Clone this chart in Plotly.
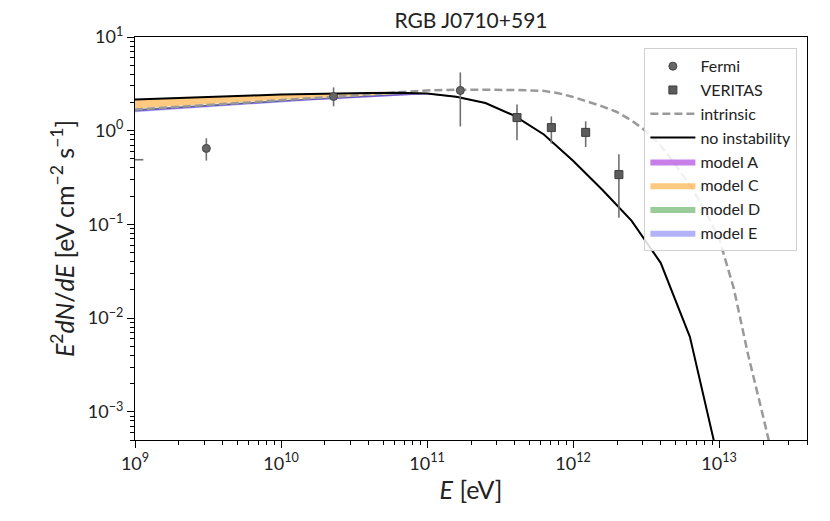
import numpy as np
import plotly.graph_objects as go

# ---- data ----
# model energy grid, log10(E/eV)
log_e_model = [9.0, 9.2, 9.4, 9.6, 9.8, 10.0, 10.2, 10.4, 10.6, 10.8, 11.0,
               11.2, 11.4, 11.6, 11.8, 12.0, 12.2, 12.4, 12.6, 12.8, 13.0]
# log10 of E^2 dN/dE [eV cm^-2 s^-1]
no_instability = [0.333, 0.345, 0.356, 0.366, 0.376, 0.385, 0.393, 0.399, 0.403, 0.404, 0.398,
                  0.362, 0.295, 0.158, -0.040, -0.320, -0.630, -0.960, -1.410, -2.200, -3.550]
modelA_lo = [0.205, 0.227, 0.248, 0.269, 0.289, 0.308, 0.326, 0.344, 0.362, 0.380, 0.390,
             0.357, 0.290, 0.153, -0.045, -0.325, -0.636, -0.966, -1.417, -2.210, -3.570]
modelA_hi = [0.228, 0.249, 0.269, 0.289, 0.307, 0.325, 0.342, 0.358, 0.375, 0.390, 0.394,
             0.361, 0.294, 0.157, -0.041, -0.321, -0.631, -0.961, -1.411, -2.200, -3.550]
modelC_lo = [0.238, 0.258, 0.277, 0.296, 0.314, 0.331, 0.347, 0.362, 0.378, 0.392, 0.393,
             0.358, 0.291, 0.152, -0.046, -0.326, -0.636, -0.966, -1.418, -2.210, -3.570]
modelC_hi = [0.335, 0.347, 0.357, 0.367, 0.377, 0.386, 0.394, 0.400, 0.404, 0.405, 0.399,
             0.364, 0.297, 0.160, -0.038, -0.318, -0.628, -0.957, -1.405, -2.190, -3.540]
modelD_lo = [0.210, 0.231, 0.252, 0.272, 0.292, 0.311, 0.329, 0.346, 0.364, 0.381, 0.391,
             0.357, 0.290, 0.153, -0.045, -0.325, -0.636, -0.966, -1.417, -2.210, -3.570]
modelD_hi = [0.232, 0.252, 0.272, 0.291, 0.309, 0.327, 0.344, 0.360, 0.376, 0.391, 0.395,
             0.361, 0.294, 0.157, -0.041, -0.321, -0.631, -0.961, -1.411, -2.200, -3.550]
modelE_lo = [0.198, 0.220, 0.242, 0.263, 0.283, 0.302, 0.321, 0.339, 0.357, 0.376, 0.388,
             0.355, 0.288, 0.150, -0.048, -0.328, -0.640, -0.970, -1.422, -2.215, -3.580]
modelE_hi = [0.222, 0.243, 0.263, 0.283, 0.302, 0.320, 0.338, 0.355, 0.372, 0.388, 0.392,
             0.359, 0.292, 0.155, -0.043, -0.323, -0.633, -0.963, -1.414, -2.205, -3.560]

# intrinsic spectrum
log_e_intr = [9.0, 9.2, 9.4, 9.6, 9.8, 10.0, 10.2, 10.4, 10.6, 10.8, 11.0, 11.2, 11.4, 11.6,
              11.8, 11.9, 12.0, 12.1, 12.2, 12.3, 12.4, 12.5, 12.6, 12.7, 12.8, 12.9,
              13.0, 13.1, 13.2, 13.3, 13.4]
intrinsic = [0.226, 0.246, 0.266, 0.285, 0.305, 0.324, 0.342, 0.360, 0.385, 0.410, 0.430,
             0.438, 0.440, 0.435, 0.425, 0.400, 0.360, 0.310, 0.260, 0.200, 0.110, -0.005,
             -0.160, -0.360, -0.580, -0.840, -1.150, -1.680, -2.400, -3.040, -3.700]

# Fermi points (last one lies just left of the plotted range)
fermi_e = [3.08e9, 2.29e10, 1.69e11, 8.0e8]
fermi_f = [0.647, 2.32, 2.69, 0.49]
fermi_up = [0.83, 2.90, 4.19, 0.49]
fermi_lo = [0.48, 1.82, 1.11, 0.49]
fermi_e_hi = [3.08e9, 2.29e10, 1.69e11, 1.14e9]

# VERITAS points
ver_e = [4.13e11, 7.10e11, 1.22e12, 2.06e12]
ver_f = [1.38, 1.08, 0.96, 0.34]
ver_up = [1.90, 1.42, 1.26, 0.56]
ver_lo = [0.79, 0.73, 0.67, 0.118]

# tick decades
x_decades = [9, 10, 11, 12, 13]
y_decades = [-3, -2, -1, 0, 1]

# ---- figure ----
E_model = 10 ** np.array(log_e_model)
E_intr = 10 ** np.array(log_e_intr)

fig = go.Figure()

bands = [
    ("model A", modelA_lo, modelA_hi, "rgba(148,0,211,0.5)", 5),
    ("model C", modelC_lo, modelC_hi, "rgba(255,150,0,0.5)", 6),
    ("model D", modelD_lo, modelD_hi, "rgba(0,128,0,0.4)", 7),
    ("model E", modelE_lo, modelE_hi, "rgba(0,0,235,0.3)", 8),
]
for name, lo, hi, col, rank in bands:
    fig.add_trace(go.Scatter(x=E_model, y=10 ** np.array(lo), mode="lines",
                             line=dict(width=0, color=col), showlegend=False,
                             hoverinfo="skip"))
    fig.add_trace(go.Scatter(x=E_model, y=10 ** np.array(hi), mode="lines",
                             line=dict(width=0, color=col), fill="tonexty",
                             fillcolor=col, name=name, legendrank=rank))

fig.add_trace(go.Scatter(x=E_intr, y=10 ** np.array(intrinsic), mode="lines",
                         line=dict(color="#999999", width=2.5, dash="8px,4px"),
                         name="intrinsic", legendrank=3))
fig.add_trace(go.Scatter(x=E_model, y=10 ** np.array(no_instability), mode="lines",
                         line=dict(color="black", width=2),
                         name="no instability", legendrank=4))

fe = np.array(fermi_e); ff = np.array(fermi_f)
fig.add_trace(go.Scatter(
    x=fe, y=ff, mode="markers", name="Fermi", legendrank=1,
    marker=dict(symbol="circle", size=8, color="#666666",
                line=dict(color="#444444", width=1)),
    error_y=dict(type="data", symmetric=False,
                 array=np.array(fermi_up) - ff, arrayminus=ff - np.array(fermi_lo),
                 color="#707070", thickness=1.6, width=0),
    error_x=dict(type="data", symmetric=False,
                 array=np.array(fermi_e_hi) - fe, arrayminus=[0, 0, 0, 0],
                 color="#707070", thickness=1.6, width=0),
))
ve = np.array(ver_e); vf = np.array(ver_f)
fig.add_trace(go.Scatter(
    x=ve, y=vf, mode="markers", name="VERITAS", legendrank=2,
    marker=dict(symbol="square", size=8, color="#5c5c5c",
                line=dict(color="#3c3c3c", width=1)),
    error_y=dict(type="data", symmetric=False,
                 array=np.array(ver_up) - vf, arrayminus=vf - np.array(ver_lo),
                 color="#707070", thickness=1.6, width=0),
))


def minor_vals(lo_dec, hi_dec):
    return [m * 10.0 ** d for d in range(lo_dec, hi_dec) for m in range(2, 10)]


font_family = "Lato, 'DejaVu Sans', sans-serif"


def axis_style(decades, minors):
    return dict(
        type="log", showgrid=False, zeroline=False, automargin=False,
        showline=True, linecolor="black", linewidth=1.2, mirror=True,
        ticks="outside", ticklen=7, tickwidth=1.2, tickcolor="black",
        tickmode="array", tickvals=[10.0 ** d for d in decades],
        ticktext=["10<sup>%s</sup>" % (str(d).replace("-", "\u2212")) for d in decades],
        tickfont=dict(size=18, color="#222222", family=font_family),
        minor=dict(tickmode="array", tickvals=minors, ticks="outside", ticklen=4,
                   tickwidth=1, tickcolor="black", showgrid=False),
    )


# page body adds an 8px offset; shrink the figure accordingly
W, H = 822, 513
ML, MR, MT, MB = 127, 23, 29, 81
fig.update_layout(
    width=W, height=H,
    margin=dict(l=ML, r=MR, t=MT, b=MB),
    paper_bgcolor="white", plot_bgcolor="white",
    font=dict(family=font_family, color="#222222"),
    title=dict(text="RGB J0710+591", x=(ML + (W - ML - MR) / 2) / W, xanchor="center",
               y=1 - 13 / H, yanchor="middle", font=dict(size=21, color="#222222")),
    xaxis=dict(axis_style(x_decades, minor_vals(9, 14)), range=[9, 13.602],
               title=dict(text="<i>E</i> [eV]", font=dict(size=25), standoff=5)),
    yaxis=dict(axis_style(y_decades, minor_vals(-4, 1)), range=[np.log10(5e-4), 1],
               title=dict(text="<i>E</i><sup>2</sup><i>dN</i>/<i>dE</i> [eV cm<sup>\u22122</sup> s<sup>\u22121</sup>]",
                          font=dict(size=25), standoff=6)),
    legend=dict(x=0.758, y=0.972, xanchor="left", yanchor="top", traceorder="normal",
                bgcolor="rgba(255,255,255,0.85)", bordercolor="#d0d0d0", borderwidth=1,
                font=dict(size=16, color="#222222"), tracegroupgap=0,
                itemwidth=45),
)

fig.write_html("out.html")
